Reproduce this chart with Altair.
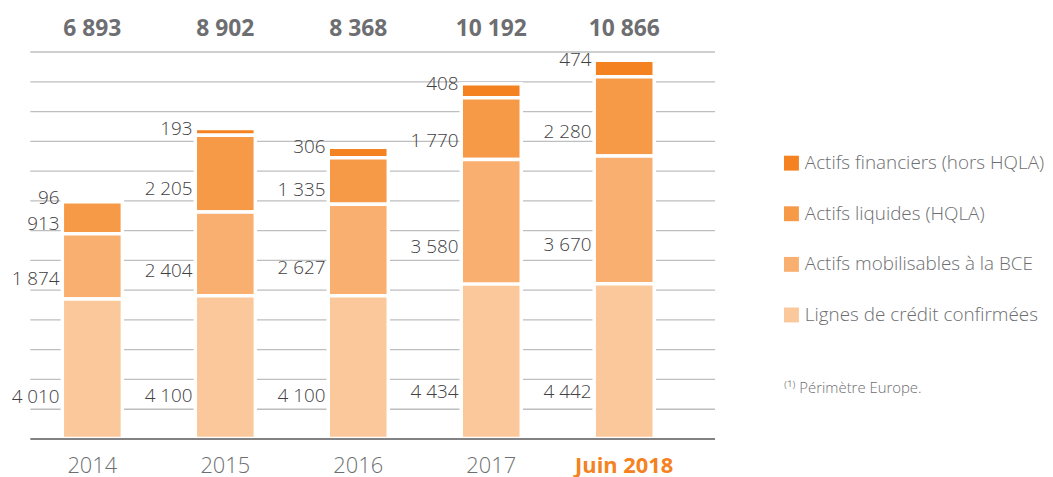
import altair as alt
import pandas as pd

years = ["2014", "2015", "2016", "2017", "Juin 2018"]
totals = [6893, 8902, 8368, 10192, 10866]
series = [
    "Actifs financiers (hors HQLA)",
    "Actifs liquides (HQLA)",
    "Actifs mobilisables à la BCE",
    "Lignes de crédit confirmées",
]
fin = [96, 193, 306, 408, 474]
hqla = [913, 2205, 1335, 1770, 2280]
bce = [1874, 2404, 2627, 3580, 3670]
lignes = [4010, 4100, 4100, 4434, 4442]
colors = ["#F58220", "#F79A48", "#F9AF6F", "#FBC89B"]
footnote = "⁽¹⁾ Périmètre Europe."
grid_values = [855 * i for i in range(1, 14)]

FONT = "Open Sans"
GREY = "#6d6e71"


def fmt(v):
    return f"{v:,}".replace(",", " ")


rows = []
for si, (name, vals) in enumerate(zip(series, [fin, hqla, bce, lignes])):
    for yr, v in zip(years, vals):
        rows.append({"year": yr, "series": name, "value": v, "ord": 3 - si, "label": fmt(v)})
df = pd.DataFrame(rows)
tot_df = pd.DataFrame({"year": years, "total": totals, "label": [fmt(t) for t in totals]})
foot_df = pd.DataFrame({"t": [footnote]})

x_enc = alt.X(
    "year:N",
    sort=years,
    scale=alt.Scale(paddingInner=0.5485, paddingOuter=0.349, align=0.35),
    axis=alt.Axis(
        title=None,
        labelAngle=0,
        ticks=False,
        domainColor="#58595b",
        domainWidth=1.5,
        labelFontSize=22,
        labelFont=FONT,
        labelPadding=17,
        labelColor={"condition": {"test": "datum.value == 'Juin 2018'", "value": "#F58220"}, "value": GREY},
        labelFontWeight={"condition": {"test": "datum.value == 'Juin 2018'", "value": "bold"}, "value": 300},
        zindex=1,
    ),
)

y_axis = alt.Axis(
    title=None,
    values=grid_values,
    tickCount=40,
    grid=True,
    gridColor="#bcbec0",
    gridWidth=1.3,
    labels=False,
    ticks=False,
    domain=False,
)

base = alt.Chart(df).transform_stack(
    stack="value",
    groupby=["year"],
    as_=["v0", "v1"],
    sort=[alt.SortField("ord", order="ascending")],
)

bars = base.mark_bar(stroke="white", strokeWidth=3.5).encode(
    x=x_enc,
    y=alt.Y("v0:Q", scale=alt.Scale(domain=[0, 11400], nice=False, zero=True), axis=y_axis),
    y2="v1:Q",
    color=alt.Color(
        "series:N",
        scale=alt.Scale(domain=series, range=colors),
        legend=alt.Legend(
            title=None,
            orient="none",
            legendX=758,
            legendY=113,
            symbolType="square",
            symbolSize=225,
            symbolStrokeWidth=0,
            symbolOpacity=1,
            labelFont=FONT,
            labelFontSize=19,
            labelFontWeight=300,
            labelColor=GREY,
            labelOffset=4,
            rowPadding=31,
            labelLimit=400,
        ),
    ),
)

labels = base.transform_calculate(
    ly="datum.ord == 3 ? datum.v1 : datum.v0 + 0.3 * datum.value"
).mark_text(
    align="right", baseline="middle", dx=-33, fontSize=19, font=FONT, fontWeight=300, color="#414042"
).encode(
    x=alt.X("year:N", sort=years),
    y=alt.Y("ly:Q", axis=y_axis),
    text="label:N",
)

tots = alt.Chart(tot_df).mark_text(
    baseline="middle", fontSize=23, font=FONT, fontWeight="bold", color=GREY
).encode(
    x=alt.X("year:N", sort=years),
    y=alt.value(-13),
    text="label:N",
)

foot = alt.Chart(foot_df).mark_text(
    align="left", baseline="middle", fontSize=15, font=FONT, fontWeight=300, color=GREY
).encode(
    x=alt.value(760),
    y=alt.value(349),
    text="t:N",
)

chart = (
    alt.layer(bars, labels, tots, foot)
    .properties(
        width=690,
        height=400,
        padding={"left": 22, "top": 32, "right": 333, "bottom": 45},
        autosize=alt.AutoSizeParams(type="none"),
    )
    .configure_view(stroke=None)
)

chart.save("out.html", embed_options={"renderer": "svg", "actions": False})
